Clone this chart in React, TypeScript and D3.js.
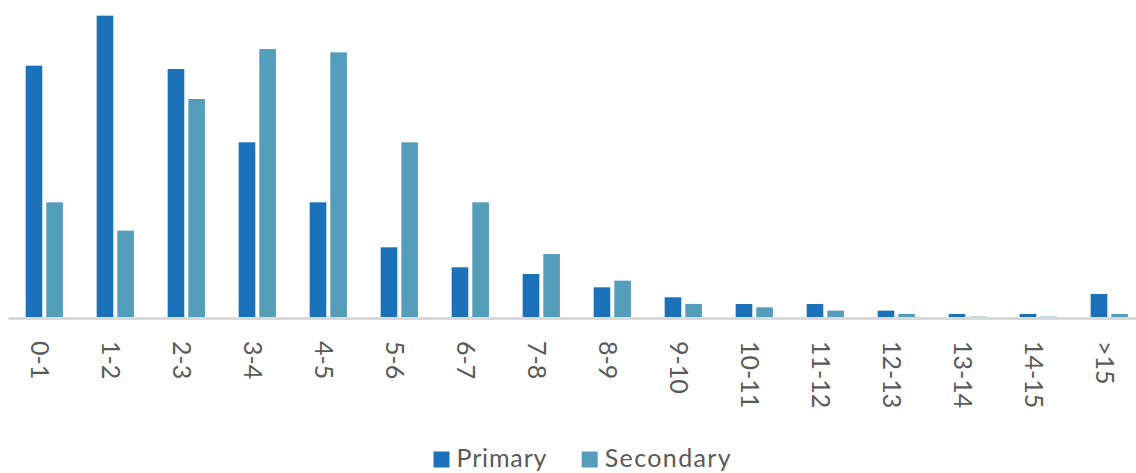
import React from "react";
import * as d3 from "d3";

// Distribution by range, two series
const categories = ["0-1", "1-2", "2-3", "3-4", "4-5", "5-6", "6-7", "7-8", "8-9", "9-10", "10-11", "11-12", "12-13", "13-14", "14-15", ">15"];
const primaryValues = [75.5, 90.5, 74.5, 52.5, 34.5, 21, 15, 13, 9, 6, 4, 4, 2, 1, 1, 7];
const secondaryValues = [34.5, 26, 65.5, 80.5, 79.5, 52.5, 34.5, 19, 11, 4, 3, 2, 1, 0.2, 0.2, 1];
const seriesNames = ["Primary", "Secondary"];

const WIDTH = 1136;
const HEIGHT = 473;
const BASELINE = 317.3;
const COLORS = ["#1b72ba", "#559ebb"];
const TEXT = "#595959";
const FONT = "Lato, 'Open Sans', sans-serif";

// legend entries: swatch left edge and text width
const legendX = [433.5, 581.7];
const legendTextWidth = [90, 126];

export default function App() {
  const x = d3
    .scaleBand<string>()
    .domain(categories)
    .range([8.8, 8.8 + categories.length * 71])
    .paddingInner(0.475)
    .paddingOuter(0.2375);

  const inner = d3
    .scaleBand<string>()
    .domain(seriesNames)
    .range([0, x.bandwidth()])
    .paddingInner(0.194);

  const y = d3.scaleLinear().domain([0, 100]).range([BASELINE, BASELINE - 333.3]);

  const series = [primaryValues, secondaryValues];

  return (
    <svg
      width={WIDTH}
      height={HEIGHT}
      style={{ position: "absolute", left: 0, top: 0, background: "#fff" }}
      fontFamily={FONT}
    >
      <g>
        {categories.map((c, i) =>
          series.map((vals, s) => (
            <rect
              key={c + s}
              x={(x(c) ?? 0) + (inner(seriesNames[s]) ?? 0)}
              y={y(vals[i])}
              width={inner.bandwidth()}
              height={BASELINE - y(vals[i])}
              fill={COLORS[s]}
            />
          ))
        )}
      </g>
      <line x1={8.3} x2={WIDTH} y1={BASELINE + 1.3} y2={BASELINE + 1.3} stroke="#d9d9d9" strokeWidth={3} />
      <g>
        {categories.map((c) => {
          const cx = (x(c) ?? 0) + x.bandwidth() / 2 - 4;
          return (
            <text
              key={c}
              transform={`translate(${cx},341) rotate(90)`}
              dy="0.36em"
              fontSize={25}
              fill={TEXT}
              textAnchor="start"
            >
              {c}
            </text>
          );
        })}
      </g>
      <g>
        {seriesNames.map((name, s) => {
          const lx = legendX[s];
          return (
            <g key={name}>
              <rect x={lx} y={451.5} width={16} height={16} fill={COLORS[s]} />
              <text
                x={lx + 23}
                y={466.5}
                fontSize={25}
                fill={TEXT}
                textLength={legendTextWidth[s]}
                lengthAdjust="spacing"
              >
                {name}
              </text>
            </g>
          );
        })}
      </g>
    </svg>
  );
}
